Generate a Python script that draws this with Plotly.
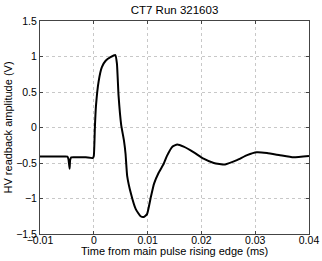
import plotly.graph_objects as go

t_ms = [-0.01, -0.008, -0.006, -0.0049, -0.0047, -0.0045, -0.0044, -0.0042, -0.003, -0.0015,
        -0.0002, 0.0, 0.0002, 0.0004, 0.0009, 0.0015, 0.0022, 0.0031, 0.004, 0.0043,
        0.0046, 0.0051, 0.0056, 0.0059, 0.0062, 0.0069, 0.0078, 0.0087, 0.0093, 0.0099,
        0.0106, 0.0112, 0.0121, 0.013, 0.0136, 0.0146, 0.0155, 0.0167, 0.0186, 0.0204,
        0.0223, 0.0244, 0.0266, 0.0285, 0.0303, 0.0322, 0.0346, 0.0371, 0.04]
hv_volts = [-0.41, -0.41, -0.41, -0.41, -0.45, -0.58, -0.46, -0.42, -0.42, -0.42,
            -0.43, -0.40, 0.0, 0.3, 0.65, 0.85, 0.94, 0.99, 1.02, 0.9,
            0.45, 0.03, -0.18, -0.37, -0.68, -0.93, -1.15, -1.25, -1.26, -1.22,
            -0.98, -0.79, -0.63, -0.51, -0.40, -0.27, -0.24, -0.27, -0.35, -0.44,
            -0.5, -0.52, -0.46, -0.39, -0.35, -0.36, -0.39, -0.42, -0.40]

x_ticks = [-0.01, 0, 0.01, 0.02, 0.03, 0.04]
x_tick_text = ["\u22120.01", "0", "0.01", "0.02", "0.03", "0.04"]
y_ticks = [-1.5, -1, -0.5, 0, 0.5, 1, 1.5]
y_tick_text = ["\u22121.5", "\u22121", "\u22120.5", "0", "0.5", "1", "1.5"]

fig = go.Figure()
fig.add_trace(go.Scatter(x=t_ms, y=hv_volts, mode="lines",
                         line=dict(color="black", width=2, shape="spline", smoothing=0.4),
                         showlegend=False))

font = dict(family="Liberation Sans, Arial, sans-serif", size=11, color="black")
tick_font = dict(family="Liberation Sans, Arial, sans-serif", size=10.5, color="black")
axis_common = dict(showline=True, linecolor="#444", linewidth=1, mirror="ticks",
                   ticks="inside", ticklen=3, tickcolor="#444",
                   showgrid=True, gridcolor="#c8c8c8", griddash="dot", gridwidth=1,
                   zeroline=False, tickfont=tick_font, automargin=False)

fig.update_layout(
    width=322, height=261,
    margin=dict(l=40, r=13, t=21, b=27),
    paper_bgcolor="white", plot_bgcolor="white",
    font=font,
    title=dict(text="CT7 Run 321603", x=0.5, xanchor="center", y=0.96, yanchor="middle",
               xref="paper",
               font=dict(family="Liberation Sans, Arial, sans-serif", size=11.5, color="black")),
    xaxis=dict(range=[-0.01, 0.04], tickvals=x_ticks, ticktext=x_tick_text,
               ticklabelstandoff=-4, **axis_common),
    yaxis=dict(range=[-1.5, 1.5], tickvals=y_ticks, ticktext=y_tick_text, **axis_common),
    annotations=[
        dict(text="Time from main pulse rising edge (ms)", xref="paper", yref="paper",
             x=0.5, y=-0.081, xanchor="center", yanchor="middle", showarrow=False, font=font),
        dict(text="HV readback amplitude (V)", xref="paper", yref="paper",
             x=-0.119, y=0.5, xanchor="center", yanchor="middle", textangle=-90,
             showarrow=False, font=font),
    ],
)

fig.write_html("out.html", config={"displayModeBar": False},
               post_script="document.body.style.margin='0';document.body.style.overflow='hidden';")
